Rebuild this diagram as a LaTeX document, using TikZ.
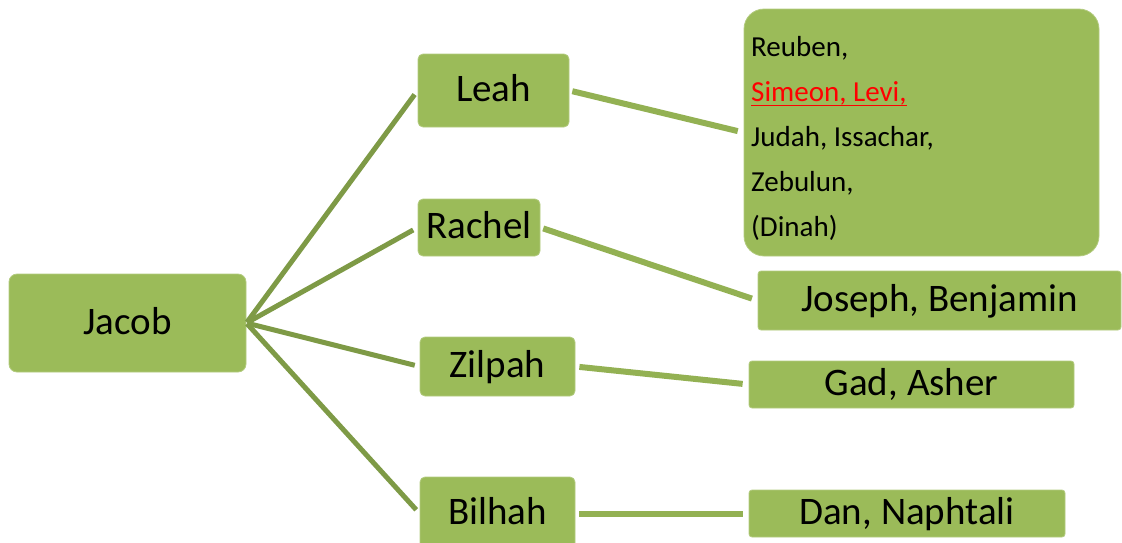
\documentclass[tikz,border=0pt]{standalone}
\usepackage{fontspec}
\setmainfont{Carlito}
\definecolor{boxgreen}{HTML}{9BBB59}
\definecolor{boxedge}{HTML}{B3CB80}
\definecolor{darkline}{HTML}{7E9A46}
\definecolor{lightline}{HTML}{93B153}
\newcommand\redul[1]{\setbox0\hbox{#1}\rlap{\rule[-5pt]{\wd0}{1.8pt}}\box0}
\tikzset{
  gbox/.style={fill=boxgreen, draw=boxedge, line width=0.8pt, rounded corners=5pt,
    inner sep=0pt, font=\fontsize{39}{47}\selectfont, text height=22pt, text depth=0pt},
  lline/.style={draw=darkline, line width=5pt},
  rline/.style={draw=lightline, line width=6pt},
}
\begin{document}
\begin{tikzpicture}[x=1pt,y=1pt]
\useasboundingbox (0,0) rectangle (1122,-542);
% parents
\node[gbox, minimum width=237, minimum height=98, rounded corners=8pt] (jacob) at (127.5,-323) {Jacob};
\node[gbox, minimum width=151, minimum height=73] (leah) at (493.5,-90.5) {Leah};
\node[gbox, minimum width=122, minimum height=57] (rachel) at (479,-227.5) {Rachel};
\node[gbox, minimum width=155, minimum height=59] (zilpah) at (497.5,-366.5) {Zilpah};
\node[gbox, minimum width=155, minimum height=73] (bilhah) at (497.5,-513.5) {Bilhah};
% children
\node[gbox, minimum width=355, minimum height=247, rounded corners=20pt] (leahkids) at (921.5,-132.5) {};
\node[anchor=north west, inner sep=0pt, align=left, font=\fontsize{29}{45}\selectfont]
  (leahnames) at (751,-36) {\rule{0pt}{20pt}Reuben,\\
  \textcolor{red}{\redul{Simeon, Levi,}}\\
  Judah, Issachar,\\
  Zebulun,\\
  (Dinah)};
\node[gbox, minimum width=363, minimum height=59, rounded corners=3pt] (rachelkids) at (939.5,-300.5) {Joseph, Benjamin};
\node[gbox, minimum width=325, minimum height=47, rounded corners=3pt] (zilpahkids) at (911.5,-384.5) {Gad, Asher};
\node[gbox, minimum width=316, minimum height=47, rounded corners=3pt] (bilhahkids) at (907,-513.5) {Dan, Naphtali};
% connectors
\draw[lline, shorten <=1pt, shorten >=5pt] (jacob.east) -- (leah.west);
\draw[lline, shorten <=1pt, shorten >=5pt] (jacob.east) -- (rachel.west);
\draw[lline, shorten <=1pt, shorten >=5pt] (jacob.east) -- (zilpah.west);
\draw[lline, shorten <=1pt, shorten >=5pt] (jacob.east) -- (bilhah.west);
\draw[rline, shorten <=3pt, shorten >=6pt] (leah.east) -- (leahkids.west);
\draw[rline, shorten <=3pt, shorten >=6pt] (rachel.east) -- (rachelkids.west);
\draw[rline, shorten <=4pt, shorten >=6pt] (zilpah.east) -- (zilpahkids.west);
\draw[rline, shorten <=4pt, shorten >=6pt] (bilhah.east) -- (bilhahkids.west);
\end{tikzpicture}
\end{document}
